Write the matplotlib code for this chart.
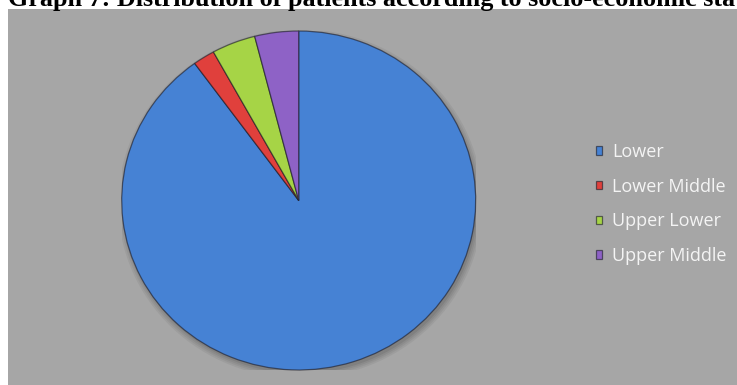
import matplotlib.pyplot as plt
from matplotlib.patches import Rectangle, Ellipse

# socio-economic status of patients (%)
labels = ['Lower', 'Lower Middle', 'Upper Lower', 'Upper Middle']
values = [90, 2, 4, 4]
colors = ['#4682d4', '#e0403c', '#a6d446', '#8e62c6']

W, H = 737, 385
fig = plt.figure(figsize=(W / 100, H / 100), dpi=100)
fig.patch.set_facecolor('white')

# grey chart area
fig.patches.append(Rectangle((8 / W, 0), 1, (H - 9) / H, transform=fig.transFigure,
                             facecolor='#a6a6a6', edgecolor='none', zorder=-5))

fig.text(8 / W, (H - 6) / H, 'Graph 7: Distribution of patients according to socio-economic status',
         family='Liberation Serif', weight='bold', fontsize=18.8, va='baseline', ha='left')

ax = fig.add_axes([121.7 / W, 15 / H, 354 / W, 339 / H])
ax.patch.set_visible(False)

# soft shadow under the pie
for i, a in enumerate([0.05, 0.05, 0.06, 0.08]):
    ax.add_patch(Ellipse((0.01, -0.02), 2.0 + 0.02 * (3 - i), 2.0 + 0.02 * (3 - i),
                         facecolor='black', alpha=a, edgecolor='none', zorder=0))

wedges, _ = ax.pie(values, colors=colors, startangle=90, counterclock=False,
                   wedgeprops=dict(edgecolor=(0.1, 0.1, 0.15, 0.6), linewidth=0.9))
ax.set_aspect('auto')
ax.set_xlim(-1, 1)
ax.set_ylim(-1, 1)

leg = fig.legend(wedges, labels, loc='center left', bbox_to_anchor=(596 / W, (H - 204) / H),
                 frameon=False, prop=dict(family='Open Sans', size=13),
                 handlelength=0.35, handleheight=0.35, handletextpad=0.55, labelspacing=0.92,
                 borderpad=0, borderaxespad=0)
for t in leg.get_texts():
    t.set_color('#f4f4f4')

fig.savefig('out.png', dpi=100)
